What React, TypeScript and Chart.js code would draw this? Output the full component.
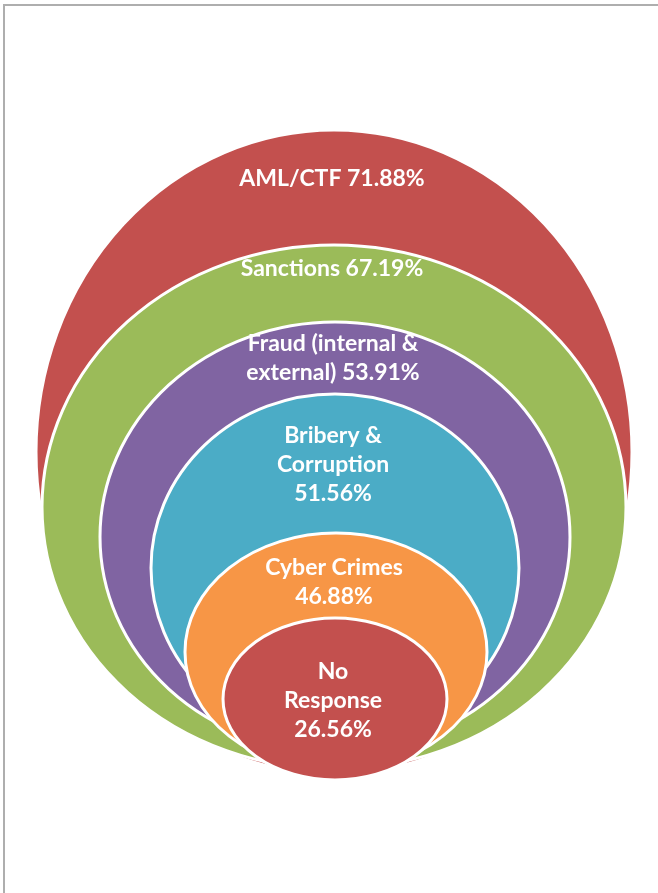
import React, { useEffect, useRef } from "react";
import { Chart, registerables } from "chart.js";

Chart.register(...registerables);

// ---- Data ----
const CATEGORIES = [
  "AML/CTF",
  "Sanctions",
  "Fraud (internal & external)",
  "Bribery & Corruption",
  "Cyber Crimes",
  "No Response",
];
const VALUES = [71.88, 67.19, 53.91, 51.56, 46.88, 26.56];
// how each label is broken into lines; "{v}" is replaced by the value
const LABEL_LINES = [
  ["AML/CTF {v}"],
  ["Sanctions {v}"],
  ["Fraud (internal &", "external) {v}"],
  ["Bribery &", "Corruption", "{v}"],
  ["Cyber Crimes", "{v}"],
  ["No", "Response", "{v}"],
];
const COLORS = ["#C3504E", "#9BBB59", "#8064A2", "#4BACC6", "#F79646", "#C3504E"];

// ---- Layout (chart units, not data) ----
const CENTER_X = [334, 334, 335, 335, 336, 335];
const CENTER_Y = [452, 507, 537, 568, 652, 699];
const RADIUS_X = [298, 292, 235, 184, 151, 112];
const RADIUS_Y = [322, 262, 215, 174, 119, 81];
const LABEL_TOP = [186, 276, 351, 443, 575, 679];
const LINE_STEP = 29;

const FONT = "bold 23px Lato, 'Open Sans', sans-serif";

const nestedEllipses = {
  id: "nestedEllipses",
  afterDatasetsDraw(chart: any) {
    const { ctx, scales } = chart;
    const xs = scales.x;
    const ys = scales.y;
    chart.data.datasets.forEach((ds: any, i: number) => {
      const meta = chart.getDatasetMeta(i);
      const pt = meta.data[0];
      const raw = ds.data[0];
      const rx = Math.abs(xs.getPixelForValue(raw.x + raw.rx) - pt.x);
      const ry = Math.abs(ys.getPixelForValue(raw.y + raw.ry) - pt.y);
      ctx.save();
      ctx.beginPath();
      ctx.ellipse(pt.x, pt.y, rx, ry, 0, 0, Math.PI * 2);
      ctx.fillStyle = ds.backgroundColor;
      ctx.fill();
      ctx.lineWidth = 3;
      ctx.strokeStyle = "#ffffff";
      ctx.stroke();
      ctx.restore();
    });
    // labels
    chart.data.datasets.forEach((ds: any, i: number) => {
      const pt = chart.getDatasetMeta(i).data[0];
      const lines: string[] = ds.labelLines;
      ctx.save();
      ctx.font = FONT;
      ctx.fillStyle = "#ffffff";
      ctx.textAlign = "center";
      ctx.textBaseline = "alphabetic";
      lines.forEach((ln, k) => {
        const yPx = ys.getPixelForValue(ds.labelTop + k * LINE_STEP);
        ctx.fillText(ln, pt.x - 2, yPx);
      });
      ctx.restore();
    });
  },
};

export default function App() {
  const ref = useRef<HTMLCanvasElement | null>(null);

  useEffect(() => {
    document.body.style.margin = "0";
    const canvas = ref.current;
    if (!canvas) return;
    const datasets = CATEGORIES.map((cat, i) => ({
      label: cat,
      data: [{ x: CENTER_X[i], y: CENTER_Y[i], rx: RADIUS_X[i], ry: RADIUS_Y[i] }],
      backgroundColor: COLORS[i],
      pointRadius: 0,
      labelLines: LABEL_LINES[i].map((l) => l.replace("{v}", VALUES[i].toFixed(2) + "%")),
      labelTop: LABEL_TOP[i],
    }));
    const chart = new Chart(canvas, {
      type: "scatter",
      data: { datasets: datasets as any },
      options: {
        animation: false,
        responsive: false,
        events: [],
        layout: { padding: 0 },
        plugins: { legend: { display: false }, tooltip: { enabled: false } },
        scales: {
          x: { type: "linear", min: 0, max: 658, display: false },
          y: { type: "linear", min: 0, max: 893, reverse: true, display: false },
        },
      },
      plugins: [nestedEllipses],
    });
    return () => chart.destroy();
  }, []);

  return (
    <div style={{ position: "relative", width: 658, height: 893, background: "#fff", overflow: "hidden" }}>
      <canvas ref={ref} width={658} height={893} style={{ display: "block" }} />
      <div style={{ position: "absolute", left: 3, top: 4, width: 655, height: 2, background: "#aeaeae" }} />
      <div style={{ position: "absolute", left: 3, top: 4, width: 2, height: 889, background: "#aeaeae" }} />
    </div>
  );
}
